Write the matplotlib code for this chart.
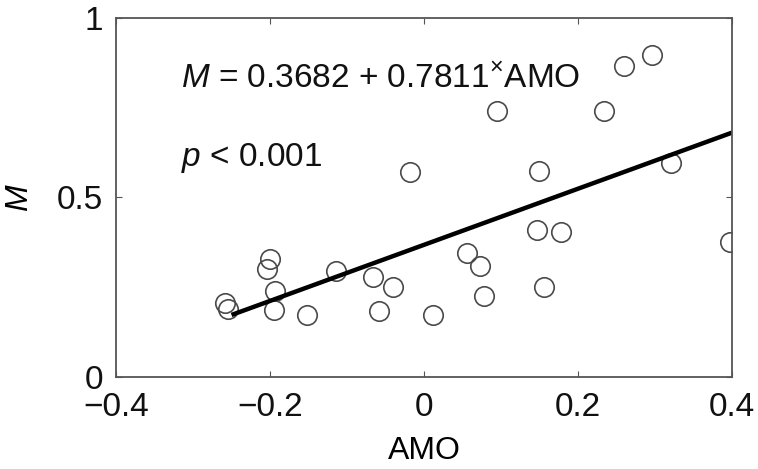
import numpy as np
import matplotlib
matplotlib.use("Agg")
import matplotlib.pyplot as plt

plt.rcParams['font.family'] = ['Liberation Sans', 'DejaVu Sans']
plt.rcParams['mathtext.fontset'] = 'custom'
plt.rcParams['mathtext.rm'] = 'Liberation Sans'
plt.rcParams['mathtext.it'] = 'Liberation Sans:italic'

# scatter values
amo = [-0.258, -0.254, -0.200, -0.204, -0.194, -0.195, -0.152, -0.114, -0.066, -0.040,
       -0.058, -0.018, 0.012, 0.056, 0.073, 0.078, 0.095, 0.149, 0.147, 0.178,
       0.156, 0.234, 0.260, 0.296, 0.321, 0.397]
m_val = [0.206, 0.190, 0.330, 0.300, 0.240, 0.187, 0.173, 0.295, 0.279, 0.251,
         0.184, 0.571, 0.173, 0.345, 0.310, 0.226, 0.741, 0.574, 0.410, 0.403,
         0.250, 0.741, 0.867, 0.897, 0.596, 0.376]

# regression line
intercept = 0.3682
slope = 0.7811
line_x = [-0.25, 0.4]

fig = plt.figure(figsize=(7.58, 4.69), dpi=100)
ax = fig.add_axes([0.153, 0.196, 0.813, 0.766])

ax.plot(amo, m_val, 'o', mfc='none', mec='#4a4a4a', ms=14, mew=1.2)
lx = np.array(line_x)
ax.plot(lx, intercept + slope * lx, color='black', lw=3.2, solid_capstyle='butt')

ax.set_xlim(-0.4, 0.4)
ax.set_ylim(0, 1)
ax.set_xticks([-0.4, -0.2, 0, 0.2, 0.4])
ax.set_xticklabels(['\u22120.4', '\u22120.2', '0', '0.2', '0.4'])
ax.set_yticks([0, 0.5, 1])
ax.set_yticklabels(['0', '0.5', '1'])
ax.tick_params(direction='in', length=4, width=0.8, top=True, right=True,
               labelsize=24, colors='#555555', labelcolor='#111111')
ax.tick_params(axis='x', pad=11)
ax.tick_params(axis='y', pad=9)
for s in ax.spines.values():
    s.set_color('#555555')
    s.set_linewidth(1.3)

ax.set_xlabel('AMO', fontsize=23, labelpad=9)
ax.set_ylabel('$M$', fontsize=23, labelpad=16)

ax.text(-0.315, 0.83, '$M$ = 0.3682 + 0.7811$^{\\times}$AMO', fontsize=24,
        va='center', ha='left', color='#111111')
ax.text(-0.315, 0.61, '$p$ < 0.001', fontsize=24, va='center', ha='left',
        color='#111111')

fig.savefig('out.png', dpi=100)
